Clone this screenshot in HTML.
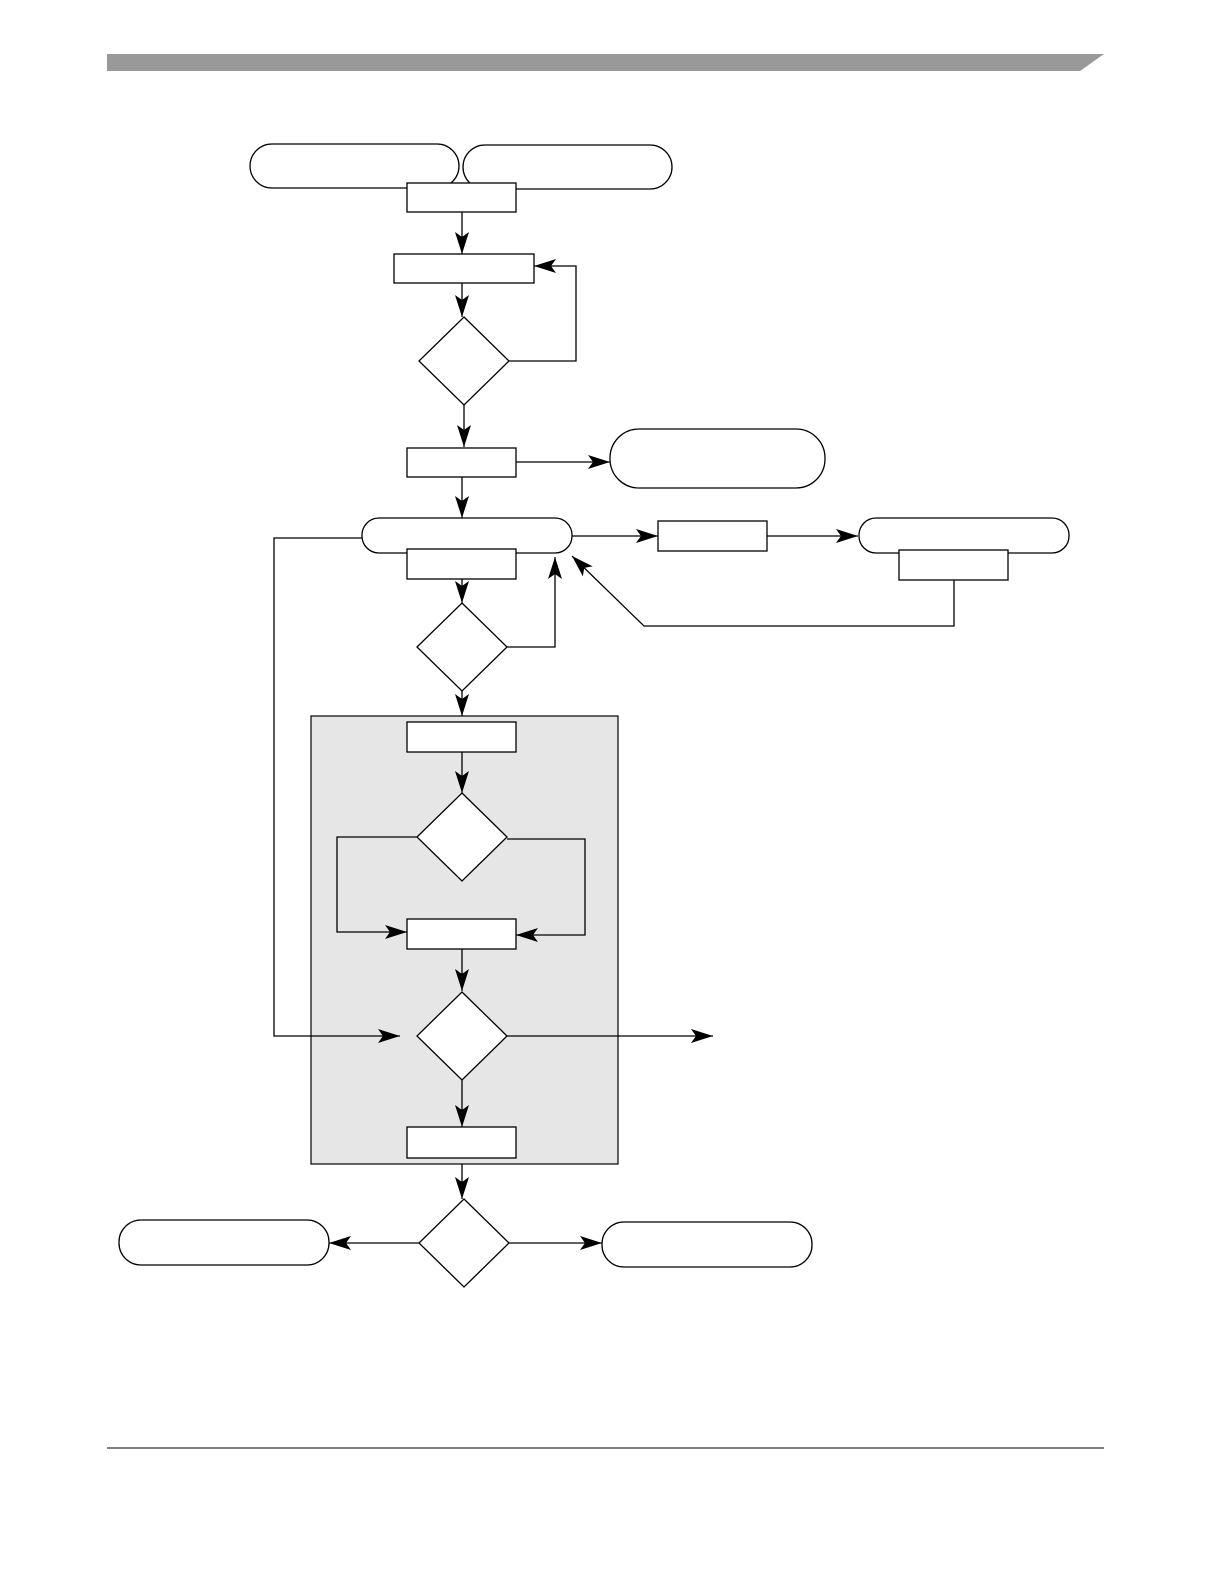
<!DOCTYPE html>
<html><head><meta charset="utf-8"><style>html,body{margin:0;padding:0;background:#fff;overflow:hidden;width:1224px;height:1584px}svg{display:block;vertical-align:top}</style></head>
<body>
<svg width="1224" height="1584" viewBox="0 0 1224 1584" xmlns="http://www.w3.org/2000/svg">
<defs>
<marker id="a" markerWidth="22" markerHeight="14" refX="22" refY="7" orient="auto" markerUnits="userSpaceOnUse">
<path d="M0,0 L22,7 L0,14 L5,7 Z" fill="#000"/>
</marker>
</defs>
<polygon points="107,54 1104,54 1080,71 107,71" fill="#999"/>
<line x1="107" y1="1448" x2="1104" y2="1448" stroke="#000" stroke-width="1"/>
<rect x="311" y="716" width="307" height="448" fill="#e6e6e6" stroke="#000" stroke-width="1.2"/>
<g fill="#fff" stroke="#000" stroke-width="1.3">
<rect x="250" y="144" width="209" height="44" rx="22"/>
<rect x="463" y="145" width="209" height="44" rx="22"/>
<rect x="407" y="183" width="109" height="29"/>
<rect x="394" y="254" width="140" height="29"/>
<polygon points="464,317 509,361 464,405 419,361"/>
<rect x="407" y="448" width="109" height="29"/>
<rect x="610" y="429" width="215" height="59" rx="29"/>
<rect x="362" y="518" width="210" height="35" rx="17"/>
<rect x="407" y="549" width="109" height="30"/>
<rect x="658" y="521" width="109" height="30"/>
<rect x="859" y="518" width="210" height="35" rx="17"/>
<rect x="899" y="550" width="109" height="30"/>
<polygon points="462,603 507,647 462,691 417,647"/>
<rect x="407" y="722" width="109" height="30"/>
<polygon points="462,793 507,837 462,881 417,837"/>
<rect x="407" y="919" width="109" height="30"/>
<polygon points="462,992 507,1036 462,1080 417,1036"/>
<rect x="407" y="1127" width="109" height="31"/>
<polygon points="464,1199 509,1243 464,1287 419,1243"/>
<rect x="119" y="1220" width="210" height="45" rx="22"/>
<rect x="602" y="1222" width="210" height="45" rx="22"/>
</g>
<g fill="none" stroke="#000" stroke-width="1.3" marker-end="url(#a)">
<line x1="462" y1="212" x2="462" y2="254"/>
<line x1="462" y1="283" x2="462" y2="317"/>
<polyline points="509,361 576,361 576,266 534,266"/>
<line x1="464" y1="405" x2="464" y2="447"/>
<line x1="516" y1="462" x2="610" y2="462"/>
<line x1="462" y1="477" x2="462" y2="518"/>
<line x1="572" y1="536" x2="658" y2="536"/>
<line x1="767" y1="536" x2="858" y2="536"/>
<polyline points="954,580 954,626 644,626 572,556"/>
<line x1="462" y1="579" x2="462" y2="603"/>
<polyline points="507,647 555,647 555,557"/>
<polyline points="362,538 274,538 274,1036 400,1036"/>
<line x1="462" y1="691" x2="462" y2="716"/>
<line x1="462" y1="752" x2="462" y2="793"/>
<polyline points="417,837 337,837 337,932 407,932"/>
<polyline points="507,839 585,839 585,935 516,935"/>
<line x1="462" y1="949" x2="462" y2="991"/>
<line x1="507" y1="1036" x2="713" y2="1036"/>
<line x1="462" y1="1080" x2="462" y2="1127"/>
<line x1="462" y1="1164" x2="462" y2="1199"/>
<line x1="419" y1="1243" x2="329" y2="1243"/>
<line x1="509" y1="1243" x2="602" y2="1243"/>
</g>
</svg>
</body></html>
